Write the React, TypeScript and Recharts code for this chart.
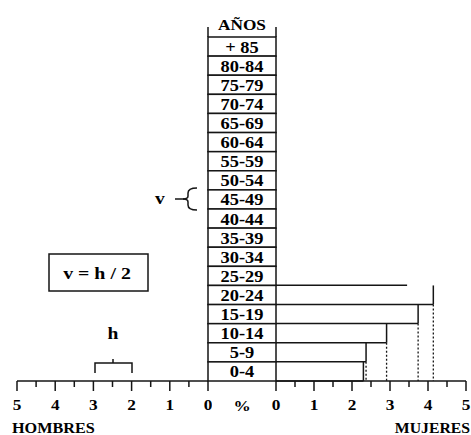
import React from "react";
import { BarChart, Bar, XAxis, YAxis } from "recharts";

// edades de arriba (+85) hacia abajo (0-4)
const AGES = [
  "+ 85", "80-84", "75-79", "70-74", "65-69", "60-64", "55-59", "50-54", "45-49",
  "40-44", "35-39", "30-34", "25-29", "20-24", "15-19", "10-14", "5-9", "0-4",
];
// % de mujeres (solo los grupos ya dibujados)
const MUJERES = [
  null, null, null, null, null, null, null, null, null,
  null, null, null, 3.45, 4.14, 3.74, 2.91, 2.37, 2.3,
];
const HOMBRES = AGES.map(() => null);
const PCT_TICKS = [0, 0.5, 1, 1.5, 2, 2.5, 3, 3.5, 4, 4.5, 5];
const PARTIAL_AGE = "25-29";

const data = AGES.map((age, i) => ({ age, mujeres: MUJERES[i], hombres: HOMBRES[i] }));

const FONT = "'Liberation Serif', 'DejaVu Serif', serif";
const INK = "#151515";
const H = 435;
const TOP = 37;
const X_AXIS_H = 54;
const AXIS_Y = H - X_AXIS_H;
const BAND = (AXIS_Y - TOP) / AGES.length;
const COL_W = 68;

// texto en negrita algo ensanchado, como en el original
function T({ x, y, size, anchor = "middle", sx = 1.15, children }: any) {
  return (
    <text
      transform={`translate(${x} ${y}) scale(${sx} 1)`}
      textAnchor={anchor}
      style={{ fontFamily: FONT, fontWeight: 700, fontSize: size }}
      fill="#000"
    >
      {children}
    </text>
  );
}

function PctTick(props: any) {
  const { x, y, payload } = props;
  const major = Number.isInteger(payload.value);
  return (
    <g>
      <line x1={x} x2={x} y1={y} y2={y + (major ? 10 : 6)} stroke={INK} strokeWidth={1.5} />
      {major && (
        <T x={x} y={y + 29} size={15}>
          {payload.value}
        </T>
      )}
    </g>
  );
}

function AgeTick(props: any) {
  const { x, y, payload, index } = props;
  const top = y - BAND / 2;
  return (
    <g>
      <rect x={x - COL_W} y={top} width={COL_W} height={BAND} fill="#fff" stroke={INK} strokeWidth={1.5} />
      {index === 0 && (
        <>
          <line x1={x - COL_W} x2={x - COL_W} y1={top - 10} y2={top} stroke={INK} strokeWidth={1.5} />
          <line x1={x} x2={x} y1={top - 10} y2={top} stroke={INK} strokeWidth={1.5} />
        </>
      )}
      <T x={x - COL_W / 2} y={y + 6} size={16}>
        {payload.value}
      </T>
    </g>
  );
}

function AnosLabel(props: any) {
  const vb = props.viewBox || {};
  return (
    <T x={vb.x + vb.width / 2} y={vb.y - 7} size={15}>
      AÑOS
    </T>
  );
}

function OpenBar(props: any) {
  const { x, y, width, height, payload } = props;
  if (width == null || !(width > 0)) return null;
  const right = x + width;
  const bottom = y + height;
  const partial = payload && payload.age === PARTIAL_AGE;
  return (
    <g>
      <line x1={x} x2={right} y1={bottom} y2={bottom} stroke={INK} strokeWidth={1.5} />
      {!partial && <line x1={right} x2={right} y1={y} y2={bottom} stroke={INK} strokeWidth={1.5} />}
      {!partial && bottom < AXIS_Y - 1 && (
        <line x1={right} x2={right} y1={bottom} y2={AXIS_Y} stroke={INK} strokeWidth={1.3} strokeDasharray="2 2" />
      )}
    </g>
  );
}

export default function App() {
  return (
    <div style={{ position: "absolute", left: 0, top: 0, width: 471, height: H, background: "#fff" }}>
      {/* hombres */}
      <div style={{ position: "absolute", left: 0, top: 0 }}>
        <BarChart
          width={212}
          height={H}
          data={data}
          layout="vertical"
          margin={{ top: TOP, right: 4, bottom: 0, left: 17 }}
          barCategoryGap={0}
        >
          <XAxis
            type="number"
            domain={[0, 5]}
            allowDataOverflow
            reversed
            ticks={PCT_TICKS}
            interval={0}
            height={X_AXIS_H}
            tickSize={0}
            tickMargin={0}
            tickLine={false}
            tick={<PctTick />}
            axisLine={{ stroke: INK, strokeWidth: 1.5 }}
          />
          <YAxis type="category" dataKey="age" hide />
          <Bar dataKey="hombres" isAnimationActive={false} fill="#fff" />
        </BarChart>
      </div>
      {/* mujeres + columna de edades */}
      <div style={{ position: "absolute", left: 204, top: 0 }}>
        <BarChart
          width={267}
          height={H}
          data={data}
          layout="vertical"
          margin={{ top: TOP, right: 5, bottom: 0, left: 4 }}
          barCategoryGap={0}
          barGap={0}
        >
          <XAxis
            type="number"
            domain={[0, 5]}
            allowDataOverflow
            ticks={PCT_TICKS}
            interval={0}
            height={X_AXIS_H}
            tickSize={0}
            tickMargin={0}
            tickLine={false}
            tick={<PctTick />}
            axisLine={{ stroke: INK, strokeWidth: 1.5 }}
          />
          <YAxis
            type="category"
            dataKey="age"
            width={COL_W}
            interval={0}
            tickSize={0}
            tickMargin={0}
            tickLine={false}
            axisLine={false}
            tick={<AgeTick />}
            label={<AnosLabel />}
          />
          <Bar dataKey="mujeres" isAnimationActive={false} shape={<OpenBar />} />
        </BarChart>
      </div>
      {/* rótulos y anotaciones */}
      <svg width={471} height={H} style={{ position: "absolute", left: 0, top: 0, pointerEvents: "none" }}>
        <T x={242} y={411} size={15}>%</T>
        <T x={12} y={433} size={15} anchor="start" sx={1.08}>HOMBRES</T>
        <T x={470} y={433} size={15} anchor="end" sx={1.05}>MUJERES</T>

        <T x={160} y={204} size={17}>v</T>
        <path d="M175 199 H184" stroke={INK} strokeWidth={1.5} fill="none" />
        <path
          d="M197 188 Q188 188 188 193 V196 Q188 199 183 199 Q188 199 188 202 V205 Q188 210 197 210"
          stroke={INK}
          strokeWidth={1.5}
          fill="none"
        />

        <rect x={49} y={254} width={99} height={37} fill="none" stroke={INK} strokeWidth={1.5} />
        <T x={97} y={279} size={17} sx={1.17}>v = h / 2</T>

        <T x={113} y={339} size={17}>h</T>
        <path d="M95 373 V363 H132 V373 M113 363 V359" stroke={INK} strokeWidth={1.5} fill="none" />
      </svg>
    </div>
  );
}
